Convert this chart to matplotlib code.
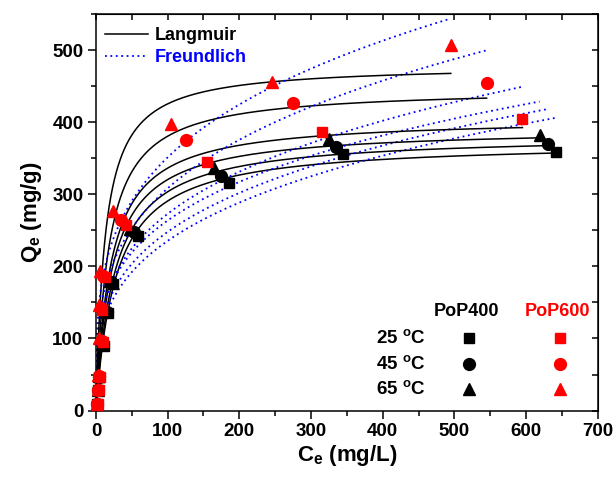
import numpy as np
import matplotlib
matplotlib.use('Agg')
import matplotlib.pyplot as plt
from matplotlib.ticker import MultipleLocator
from matplotlib.lines import Line2D

plt.rcParams['font.family'] = ['Liberation Sans', 'DejaVu Sans']
plt.rcParams['font.weight'] = 'bold'
plt.rcParams['mathtext.fontset'] = 'custom'
plt.rcParams['mathtext.rm'] = 'Liberation Sans:bold'
plt.rcParams['mathtext.bf'] = 'Liberation Sans:bold'
plt.rcParams['mathtext.it'] = 'Liberation Sans:bold'

# ---------------- data (Ce in mg/L, Qe in mg/g) ----------------
ce_400_25 = [1.5, 3.0, 4.5, 11.0, 17.0, 24.0, 58.0, 186.0, 345.0, 642.0]
qe_400_25 = [9.0, 28.0, 46.0, 90.0, 135.0, 176.0, 242.0, 315.0, 356.0, 358.0]
ce_400_45 = [1.2, 2.6, 4.0, 9.5, 15.0, 21.0, 53.0, 175.0, 335.0, 630.0]
qe_400_45 = [9.2, 28.5, 47.0, 92.0, 137.0, 178.0, 248.0, 325.0, 366.0, 370.0]
ce_400_65 = [1.0, 2.2, 3.6, 8.5, 13.0, 19.0, 48.0, 164.0, 325.0, 619.0]
qe_400_65 = [9.4, 29.0, 47.5, 93.0, 138.0, 180.0, 252.0, 337.0, 377.0, 382.0]
ce_600_25 = [2.5, 4.0, 5.0, 10.0, 9.0, 12.0, 42.0, 155.0, 315.0, 595.0]
qe_600_25 = [9.0, 28.0, 47.0, 95.0, 140.0, 185.0, 258.0, 345.0, 386.0, 405.0]
ce_600_45 = [2.0, 3.5, 4.5, 8.0, 7.5, 10.0, 35.0, 125.0, 275.0, 545.0]
qe_600_45 = [9.3, 29.0, 48.0, 97.0, 142.0, 187.0, 265.0, 375.0, 426.0, 455.0]
ce_600_65 = [1.5, 2.5, 3.2, 3.8, 4.2, 5.5, 24.0, 105.0, 245.0, 495.0]
qe_600_65 = [9.5, 29.5, 49.0, 100.0, 146.0, 193.0, 277.0, 397.0, 456.0, 507.0]

# model parameters, order: PoP400 25/45/65, PoP600 25/45/65
lang_qm = [373.0, 382.7, 391.9, 406.2, 447.3, 479.7]
lang_kl = [0.0353, 0.0383, 0.0448, 0.0481, 0.0570, 0.0783]
freu_kf = [61.0, 67.0, 77.2, 75.4, 83.0, 99.8]
freu_n = [3.41, 3.52, 3.75, 3.58, 3.51, 3.66]

temps = ['25', '45', '65']
materials = ['PoP400', 'PoP600']
mat_colors = ['black', 'red']
temp_markers = ['s', 'o', '^']

series_ce = [ce_400_25, ce_400_45, ce_400_65, ce_600_25, ce_600_45, ce_600_65]
series_qe = [qe_400_25, qe_400_45, qe_400_65, qe_600_25, qe_600_45, qe_600_65]

# ---------------- figure ----------------
fig = plt.figure(figsize=(6.16, 4.78), dpi=100)
ax = fig.add_axes([0.1558, 0.141, 0.8145, 0.8297])

for i in range(6):
    cmax = max(series_ce[i])
    c = np.concatenate([[0.0], np.geomspace(0.01, cmax, 600)])
    ql = lang_qm[i] * lang_kl[i] * c / (1 + lang_kl[i] * c)
    qf = freu_kf[i] * c ** (1.0 / freu_n[i])
    ax.plot(c, ql, color='black', lw=1.1, zorder=2)
    ax.plot(c, qf, color='blue', lw=1.3, dashes=(1.0, 2.0), zorder=2)

ms = {'s': 7.5, 'o': 8.5, '^': 9}
for i in range(6):
    mk = temp_markers[i % 3]
    col = mat_colors[i // 3]
    ax.plot(series_ce[i], series_qe[i], linestyle='none', marker=mk,
            ms=ms[mk], color=col, mec=col, zorder=3, clip_on=False)

ax.set_xlim(0, 700)
ax.set_ylim(0, 550)
ax.xaxis.set_major_locator(MultipleLocator(100))
ax.xaxis.set_minor_locator(MultipleLocator(50))
ax.yaxis.set_major_locator(MultipleLocator(100))
ax.yaxis.set_minor_locator(MultipleLocator(50))
ax.tick_params(which='major', direction='out', length=6, width=1.1,
               labelsize=13.5, pad=3)
ax.tick_params(which='minor', direction='out', length=3.5, width=1.1)
for lab in ax.get_xticklabels() + ax.get_yticklabels():
    lab.set_fontweight('bold')
for sp in ax.spines.values():
    sp.set_linewidth(1.1)

# top / right inward ticks
secx = ax.secondary_xaxis('top')
secx.xaxis.set_major_locator(MultipleLocator(50))
secx.tick_params(direction='in', length=4, width=1.1, labeltop=False)
secy = ax.secondary_yaxis('right')
secy.yaxis.set_major_locator(MultipleLocator(50))
secy.tick_params(direction='in', length=4, width=1.1, labelright=False)

ax.set_xlabel(r'C$_{\rm e}$ (mg/L)', fontsize=16, fontweight='bold', labelpad=2)
ax.set_ylabel(r'Q$_{\rm e}$ (mg/g)', fontsize=16, fontweight='bold', labelpad=6)

# model legend
handles = [Line2D([], [], color='black', lw=1.1),
           Line2D([], [], color='blue', lw=1.3, dashes=(1.0, 2.0))]
leg = ax.legend(handles, ['Langmuir', 'Freundlich'], loc='upper left',
                bbox_to_anchor=(0.0, 0.99), frameon=False,
                prop={'weight': 'bold', 'size': 13},
                handlelength=2.4, handletextpad=0.35, labelspacing=0.3,
                borderaxespad=0.2, borderpad=0.3)
for t, c in zip(leg.get_texts(), ['black', 'blue']):
    t.set_color(c)

# symbol table (bottom right)
col_x = [0.744, 0.925]
head_y = 0.25
row_y = [0.182, 0.1175, 0.0537]
for j, m in enumerate(materials):
    ax.text(col_x[j] - 0.006, head_y, m, transform=ax.transAxes, ha='center',
            va='center', fontsize=13, fontweight='bold', color=mat_colors[j])
for k, t in enumerate(temps):
    ax.text(0.658, row_y[k], t + r' $^{\rm o}$C', transform=ax.transAxes,
            ha='right', va='center', fontsize=13.5, fontweight='bold')
    for j in range(2):
        mk = temp_markers[k]
        ax.plot([col_x[j]], [row_y[k]], transform=ax.transAxes,
                marker=mk, ms=ms[mk], color=mat_colors[j], linestyle='none')

fig.savefig('out.png', dpi=100)
